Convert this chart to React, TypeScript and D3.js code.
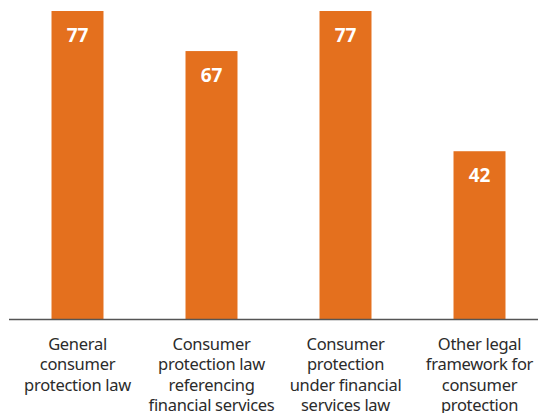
import React from "react";
import * as d3 from "d3";

const categories: string[][] = [
  ["General", "consumer", "protection law"],
  ["Consumer", "protection law", "referencing", "financial services"],
  ["Consumer", "protection", "under financial", "services law"],
  ["Other legal", "framework for", "consumer", "protection"],
];
const values: number[] = [77, 67, 77, 42];

const W = 538;
const H = 413;
const baseY = 319.5;
const topY = 11;

export default function App() {
  const ids = categories.map((_, i) => String(i));
  const x = d3.scaleBand<string>().domain(ids).range([10.5, 546.5]).paddingInner(0.612).paddingOuter(0.306);
  const y = d3.scaleLinear().domain([0, 77]).range([baseY, topY]);
  const barColor = "#E4701E";
  return (
    <svg width={W} height={H} style={{ position: "absolute", left: 0, top: 0, display: "block" }}>
      <rect width={W} height={H} fill="#fff" />
      {values.map((v, i) => {
        const x0 = x(ids[i])!;
        return (
          <g key={i}>
            <rect x={x0} y={y(v)} width={x.bandwidth()} height={baseY - y(v)} fill={barColor} />
            <text
              x={x0 + x.bandwidth() / 2}
              y={y(v) + 31}
              textAnchor="middle"
              fill="#fff"
              fontFamily="'Noto Sans', 'Open Sans', sans-serif"
              fontWeight="bold"
              fontSize={19}
            >
              {v}
            </text>
          </g>
        );
      })}
      <line x1={9} x2={W} y1={baseY} y2={baseY} stroke="#555" strokeWidth={1.5} />
      {categories.map((lines, i) => (
        <text
          key={i}
          x={x(ids[i])! + x.bandwidth() / 2}
          y={349.5}
          textAnchor="middle"
          fill="#2b2b2b"
          fontFamily="'Noto Sans', 'Open Sans', sans-serif"
          fontSize={16.5}
          letterSpacing={-0.3}
        >
          {lines.map((l, j) => (
            <tspan key={j} x={x(ids[i])! + x.bandwidth() / 2} dy={j === 0 ? 0 : 20.5}>
              {l}
            </tspan>
          ))}
        </text>
      ))}
    </svg>
  );
}
